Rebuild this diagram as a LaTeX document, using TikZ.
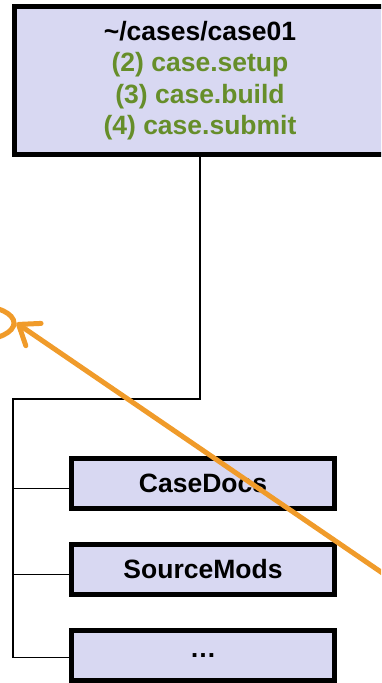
\documentclass[tikz,border=0pt]{standalone}
\usepackage{fontspec}
\setmainfont{Liberation Sans}
\usepackage{xcolor}
\usetikzlibrary{arrows.meta,positioning,shapes.geometric}

\definecolor{dirfill}{RGB}{216,216,242}
\definecolor{cmdgreen}{RGB}{102,142,42}
\definecolor{hintorange}{RGB}{240,155,42}

\begin{document}
\begin{tikzpicture}[
    x=1pt, y=-1pt,
    dirbox/.style={rectangle, draw, line width=5pt, fill=dirfill, inner sep=0pt,
        font=\bfseries\fontsize{26.5}{31.5}\selectfont, minimum width=263pt, minimum height=50pt},
    link/.style={line width=1.8pt},
    hint/.style={draw=hintorange, line width=5pt, line cap=round}
]
\useasboundingbox (0,0) rectangle (381,683);
\clip (0,0) rectangle (381,683);

% case directory and its scripts
\node[dirbox, minimum width=371pt, minimum height=148pt, align=center] (case) at (200,80.5)
    {\textasciitilde/cases/case01\\
     \textcolor{cmdgreen}{(2) case.setup}\\
     \textcolor{cmdgreen}{(3) case.build}\\
     \textcolor{cmdgreen}{(4) case.submit}};

% sub directories
\node[dirbox] (docs) at (203,483.5) {CaseDocs};
\node[dirbox, below=31pt of docs] (mods) {SourceMods};
\node[dirbox, below=31pt of mods] (more) {\dots};

% tree lines
\coordinate (trunktop) at (13,399);
\coordinate (trunkend) at (13,658);
\draw[link] (case.south) |- (trunktop) -- (trunkend);
\draw[link] (trunktop |- docs.west) ++(0,5) -- ([yshift=-5pt]docs.west);
\draw[link] (trunktop |- mods.west) ++(0,5) -- ([yshift=-5pt]mods.west);
\draw[link] (trunktop |- more.west) ++(0,2) -- ([yshift=-2pt]more.west);

% orange pointer
\node[hint, ellipse, minimum width=72pt, minimum height=34pt, inner sep=0pt] (ring) at (-22,323) {};
\coordinate (hinttail) at (400,585);
\draw[hint, -{Straight Barb[length=18pt, width=27pt, round]}] (hinttail) -- (ring.east);
\end{tikzpicture}
\end{document}
